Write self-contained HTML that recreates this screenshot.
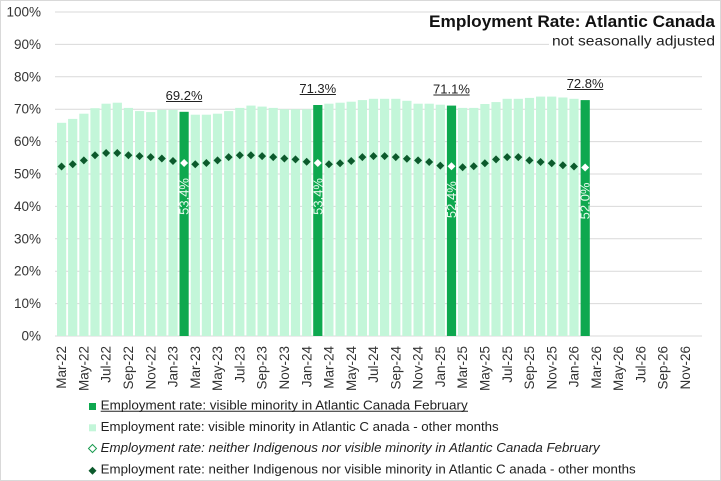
<!DOCTYPE html>
<html>
<head>
<meta charset="utf-8">
<style>
html,body{margin:0;padding:0;background:#fff;}
svg{display:block;}
text{font-family:"Liberation Sans",sans-serif;}
</style>
</head>
<body>
<svg width="721" height="481" viewBox="0 0 721 481" xmlns="http://www.w3.org/2000/svg">
<defs>
<path id="dm" d="M0,-4 L4,0 L0,4 L-4,0 Z"/>
</defs>
<rect x="0" y="0" width="721" height="481" fill="#fff"/>
<rect x="0.5" y="0.5" width="720" height="480" fill="none" stroke="#d9d9d9"/>

<!-- gridlines -->
<g stroke="#d9d9d9" stroke-width="1">
<line x1="55" x2="702" y1="336" y2="336"/>
<line x1="55" x2="702" y1="303.6" y2="303.6"/>
<line x1="55" x2="702" y1="271.2" y2="271.2"/>
<line x1="55" x2="702" y1="238.8" y2="238.8"/>
<line x1="55" x2="702" y1="206.4" y2="206.4"/>
<line x1="55" x2="702" y1="174" y2="174"/>
<line x1="55" x2="702" y1="141.6" y2="141.6"/>
<line x1="55" x2="702" y1="109.2" y2="109.2"/>
<line x1="55" x2="702" y1="76.8" y2="76.8"/>
<line x1="55" x2="702" y1="44.4" y2="44.4"/>
<line x1="55" x2="702" y1="12" y2="12"/>
</g>

<!-- y labels -->
<g font-size="13.5" fill="#333" text-anchor="end">
<text x="41" y="340.5">0%</text>
<text x="41" y="308.1">10%</text>
<text x="41" y="275.7">20%</text>
<text x="41" y="243.3">30%</text>
<text x="41" y="210.9">40%</text>
<text x="41" y="178.5">50%</text>
<text x="41" y="146.1">60%</text>
<text x="41" y="113.7">70%</text>
<text x="41" y="81.3">80%</text>
<text x="41" y="48.9">90%</text>
<text x="41" y="16.5">100%</text>
</g>

<!-- light bars -->
<g fill="#c3f6d9">
<rect x="57.0" y="122.8" width="9.2" height="213.2"/>
<rect x="68.1" y="118.9" width="9.2" height="217.1"/>
<rect x="79.3" y="113.7" width="9.2" height="222.3"/>
<rect x="90.4" y="108.2" width="9.2" height="227.8"/>
<rect x="101.5" y="103.7" width="9.2" height="232.3"/>
<rect x="112.7" y="102.7" width="9.2" height="233.3"/>
<rect x="123.8" y="107.9" width="9.2" height="228.1"/>
<rect x="135.0" y="111.1" width="9.2" height="224.9"/>
<rect x="146.1" y="112.1" width="9.2" height="223.9"/>
<rect x="157.2" y="109.8" width="9.2" height="226.2"/>
<rect x="168.4" y="109.8" width="9.2" height="226.2"/>
<rect x="190.7" y="114.7" width="9.2" height="221.3"/>
<rect x="201.8" y="114.7" width="9.2" height="221.3"/>
<rect x="212.9" y="113.7" width="9.2" height="222.3"/>
<rect x="224.1" y="111.1" width="9.2" height="224.9"/>
<rect x="235.2" y="107.9" width="9.2" height="228.1"/>
<rect x="246.4" y="105.6" width="9.2" height="230.4"/>
<rect x="257.5" y="106.6" width="9.2" height="229.4"/>
<rect x="268.6" y="107.9" width="9.2" height="228.1"/>
<rect x="279.8" y="109.2" width="9.2" height="226.8"/>
<rect x="290.9" y="109.2" width="9.2" height="226.8"/>
<rect x="302.1" y="109.2" width="9.2" height="226.8"/>
<rect x="324.3" y="103.7" width="9.2" height="232.3"/>
<rect x="335.5" y="102.7" width="9.2" height="233.3"/>
<rect x="346.6" y="101.7" width="9.2" height="234.3"/>
<rect x="357.8" y="100.1" width="9.2" height="235.9"/>
<rect x="368.9" y="98.8" width="9.2" height="237.2"/>
<rect x="380.0" y="98.8" width="9.2" height="237.2"/>
<rect x="391.2" y="98.8" width="9.2" height="237.2"/>
<rect x="402.3" y="100.8" width="9.2" height="235.2"/>
<rect x="413.5" y="103.7" width="9.2" height="232.3"/>
<rect x="424.6" y="103.7" width="9.2" height="232.3"/>
<rect x="435.7" y="104.7" width="9.2" height="231.3"/>
<rect x="458.0" y="107.9" width="9.2" height="228.1"/>
<rect x="469.2" y="107.9" width="9.2" height="228.1"/>
<rect x="480.3" y="104.0" width="9.2" height="232.0"/>
<rect x="491.4" y="102.1" width="9.2" height="233.9"/>
<rect x="502.6" y="98.8" width="9.2" height="237.2"/>
<rect x="513.7" y="98.8" width="9.2" height="237.2"/>
<rect x="524.9" y="97.9" width="9.2" height="238.1"/>
<rect x="536.0" y="96.6" width="9.2" height="239.4"/>
<rect x="547.1" y="96.6" width="9.2" height="239.4"/>
<rect x="558.3" y="97.5" width="9.2" height="238.5"/>
<rect x="569.4" y="98.8" width="9.2" height="237.2"/>
</g>

<!-- dark bars -->
<g fill="#0ea84f">
<rect x="179.5" y="111.8" width="9.2" height="224.2"/>
<rect x="313.2" y="105.0" width="9.2" height="231.0"/>
<rect x="446.9" y="105.6" width="9.2" height="230.4"/>
<rect x="580.6" y="100.1" width="9.2" height="235.9"/>
</g>

<!-- dark diamonds -->
<g fill="#0c5a2c">
<use href="#dm" x="61.57" y="166.55"/>
<use href="#dm" x="72.71" y="164.28"/>
<use href="#dm" x="83.85" y="160.39"/>
<use href="#dm" x="94.99" y="155.21"/>
<use href="#dm" x="106.13" y="152.94"/>
<use href="#dm" x="117.27" y="152.94"/>
<use href="#dm" x="128.41" y="155.21"/>
<use href="#dm" x="139.55" y="156.18"/>
<use href="#dm" x="150.69" y="157.15"/>
<use href="#dm" x="161.83" y="158.45"/>
<use href="#dm" x="172.97" y="161.04"/>
<use href="#dm" x="195.25" y="164.28"/>
<use href="#dm" x="206.39" y="162.98"/>
<use href="#dm" x="217.53" y="160.39"/>
<use href="#dm" x="228.67" y="157.15"/>
<use href="#dm" x="239.81" y="155.21"/>
<use href="#dm" x="250.95" y="155.21"/>
<use href="#dm" x="262.09" y="156.18"/>
<use href="#dm" x="273.23" y="157.15"/>
<use href="#dm" x="284.37" y="158.45"/>
<use href="#dm" x="295.51" y="159.42"/>
<use href="#dm" x="306.65" y="161.69"/>
<use href="#dm" x="328.93" y="164.28"/>
<use href="#dm" x="340.07" y="163.31"/>
<use href="#dm" x="351.21" y="161.04"/>
<use href="#dm" x="362.35" y="157.15"/>
<use href="#dm" x="373.49" y="156.18"/>
<use href="#dm" x="384.63" y="156.18"/>
<use href="#dm" x="395.77" y="157.15"/>
<use href="#dm" x="406.91" y="158.77"/>
<use href="#dm" x="418.05" y="160.39"/>
<use href="#dm" x="429.19" y="162.01"/>
<use href="#dm" x="440.33" y="165.58"/>
<use href="#dm" x="462.61" y="167.20"/>
<use href="#dm" x="473.75" y="166.22"/>
<use href="#dm" x="484.89" y="163.31"/>
<use href="#dm" x="496.03" y="159.42"/>
<use href="#dm" x="507.17" y="157.15"/>
<use href="#dm" x="518.31" y="157.15"/>
<use href="#dm" x="529.45" y="160.39"/>
<use href="#dm" x="540.59" y="162.01"/>
<use href="#dm" x="551.73" y="163.31"/>
<use href="#dm" x="562.87" y="165.25"/>
<use href="#dm" x="574.01" y="166.55"/>
</g>

<!-- white diamonds (February) -->
<g fill="#ffffff">
<use href="#dm" x="184.11" y="162.98"/>
<use href="#dm" x="317.79" y="162.98"/>
<use href="#dm" x="451.47" y="166.22"/>
<use href="#dm" x="585.15" y="167.52"/>
</g>

<!-- rotated labels inside dark bars -->
<g font-size="13" fill="#e6f9ec" text-anchor="end">
<text transform="translate(188.6,178) rotate(-90)">53.4%</text>
<text transform="translate(322.3,178) rotate(-90)">53.4%</text>
<text transform="translate(456.0,181.2) rotate(-90)">52.4%</text>
<text transform="translate(589.7,182.5) rotate(-90)">52.0%</text>
</g>

<!-- labels above dark bars -->
<g font-size="13" fill="#222" text-anchor="middle">
<text x="184.11" y="100">69.2%</text>
<text x="317.79" y="93">71.3%</text>
<text x="451.47" y="93.5">71.1%</text>
<text x="585.15" y="88">72.8%</text>
</g>
<g stroke="#222" stroke-width="1">
<line x1="166" x2="202.2" y1="101.5" y2="101.5"/>
<line x1="299.7" x2="335.9" y1="94.5" y2="94.5"/>
<line x1="433.4" x2="469.6" y1="95" y2="95"/>
<line x1="567.1" x2="603.3" y1="89.5" y2="89.5"/>
</g>

<!-- x labels -->
<g font-size="13.5" fill="#333" text-anchor="end">
<text transform="translate(66.2,346) rotate(-90)">Mar-22</text>
<text transform="translate(88.4,346) rotate(-90)">May-22</text>
<text transform="translate(110.7,346) rotate(-90)">Jul-22</text>
<text transform="translate(133.0,346) rotate(-90)">Sep-22</text>
<text transform="translate(155.3,346) rotate(-90)">Nov-22</text>
<text transform="translate(177.6,346) rotate(-90)">Jan-23</text>
<text transform="translate(199.9,346) rotate(-90)">Mar-23</text>
<text transform="translate(222.1,346) rotate(-90)">May-23</text>
<text transform="translate(244.4,346) rotate(-90)">Jul-23</text>
<text transform="translate(266.7,346) rotate(-90)">Sep-23</text>
<text transform="translate(289.0,346) rotate(-90)">Nov-23</text>
<text transform="translate(311.3,346) rotate(-90)">Jan-24</text>
<text transform="translate(333.5,346) rotate(-90)">Mar-24</text>
<text transform="translate(355.8,346) rotate(-90)">May-24</text>
<text transform="translate(378.1,346) rotate(-90)">Jul-24</text>
<text transform="translate(400.4,346) rotate(-90)">Sep-24</text>
<text transform="translate(422.7,346) rotate(-90)">Nov-24</text>
<text transform="translate(444.9,346) rotate(-90)">Jan-25</text>
<text transform="translate(467.2,346) rotate(-90)">Mar-25</text>
<text transform="translate(489.5,346) rotate(-90)">May-25</text>
<text transform="translate(511.8,346) rotate(-90)">Jul-25</text>
<text transform="translate(534.1,346) rotate(-90)">Sep-25</text>
<text transform="translate(556.3,346) rotate(-90)">Nov-25</text>
<text transform="translate(578.6,346) rotate(-90)">Jan-26</text>
<text transform="translate(600.9,346) rotate(-90)">Mar-26</text>
<text transform="translate(623.2,346) rotate(-90)">May-26</text>
<text transform="translate(645.5,346) rotate(-90)">Jul-26</text>
<text transform="translate(667.7,346) rotate(-90)">Sep-26</text>
<text transform="translate(690.0,346) rotate(-90)">Nov-26</text>
</g>

<!-- title -->
<rect x="549" y="33" width="167" height="16" fill="#fff"/>
<text x="715" y="27" font-size="16.5" font-weight="bold" fill="#111" text-anchor="end" textLength="286" lengthAdjust="spacingAndGlyphs">Employment Rate: Atlantic Canada</text>
<text x="715" y="45.5" font-size="14" fill="#222" text-anchor="end" textLength="163" lengthAdjust="spacingAndGlyphs">not seasonally adjusted</text>

<!-- legend -->
<rect x="89" y="403" width="7" height="7" fill="#0ea84f"/>
<rect x="89" y="424.3" width="7" height="7" fill="#c3f6d9"/>
<path d="M92.5,444.5 L96.5,448.5 L92.5,452.5 L88.5,448.5 Z" fill="#fff" stroke="#1a9a50" stroke-width="1"/>
<path d="M92.5,466.8 L96.5,470.8 L92.5,474.8 L88.5,470.8 Z" fill="#0c5a2c"/>
<g font-size="13" fill="#222">
<text x="100.7" y="409.5" textLength="367" lengthAdjust="spacingAndGlyphs">Employment rate: visible minority in Atlantic Canada February</text>
<text x="100.7" y="430.8" textLength="398" lengthAdjust="spacingAndGlyphs">Employment rate: visible minority in Atlantic C anada - other months</text>
<text x="100.7" y="452.1" font-style="italic" textLength="499" lengthAdjust="spacingAndGlyphs">Employment rate: neither Indigenous nor visible minority in Atlantic Canada February</text>
<text x="100.7" y="473.4" textLength="535" lengthAdjust="spacingAndGlyphs">Employment rate: neither Indigenous nor visible minority in Atlantic C anada - other months</text>
</g>
<line x1="100.7" x2="468" y1="411.3" y2="411.3" stroke="#222" stroke-width="1"/>
</svg>
</body>
</html>
